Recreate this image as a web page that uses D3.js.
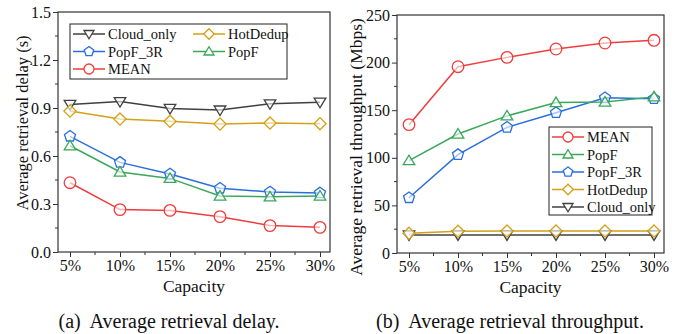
<!DOCTYPE html>
<meta charset="utf-8">
<script src="https://cdn.jsdelivr.net/npm/d3@7"></script>
<style>
  body { margin: 0; background: #fff; }
  text { font-family: "Liberation Serif", "DejaVu Serif", serif; fill: #111; }
</style>
<body>
<script>

var capacities = ["5%", "10%", "15%", "20%", "25%", "30%"]

// (a) average retrieval delay, seconds
var delayCloudOnly = [0.922, 0.940, 0.897, 0.887, 0.926, 0.936]
var delayHotDedup  = [0.881, 0.831, 0.817, 0.800, 0.806, 0.802]
var delayPopF3R    = [0.723, 0.560, 0.487, 0.398, 0.375, 0.369]
var delayPopF      = [0.664, 0.500, 0.460, 0.350, 0.345, 0.350]
var delayMean      = [0.433, 0.265, 0.260, 0.221, 0.165, 0.154]

// (b) average retrieval throughput, Mbps
var tputMean      = [134.8, 195.7, 205.5, 214.3, 220.6, 223.4]
var tputPopF      = [97.0, 125.0, 144.0, 158.0, 158.5, 164.0]
var tputPopF3R    = [58.0, 103.3, 132.0, 147.4, 163.0, 162.0]
var tputHotDedup  = [20.7, 22.8, 23.0, 23.0, 23.0, 23.0]
var tputCloudOnly = [19.0, 19.0, 19.0, 19.0, 19.0, 19.0]

var delayTicks = [0.0, 0.3, 0.6, 0.9, 1.2, 1.5]
var tputTicks = [0, 50, 100, 150, 200, 250]

var styles = {
  "Cloud_only": { color: "#404040", shape: "tdown" },
  "HotDedup":   { color: "#d4a017", shape: "diamond" },
  "PopF_3R":    { color: "#2b6fdc", shape: "pentagon" },
  "PopF":       { color: "#3aa85a", shape: "tup" },
  "MEAN":       { color: "#f03c3c", shape: "circle" }
}

var svg = d3.select("body").append("svg")
    .attr("width", 681)
    .attr("height", 334)

function markerPath(shape, r) {
  var pts
  if (shape == "circle") {
    return d3.arc()({ innerRadius: 0, outerRadius: r, startAngle: 0, endAngle: 2 * Math.PI })
  }
  if (shape == "tdown") pts = [[-r, -r * 0.7], [r, -r * 0.7], [0, r * 0.95]]
  if (shape == "tup") pts = [[-r, r * 0.7], [r, r * 0.7], [0, -r * 0.95]]
  if (shape == "diamond") pts = [[0, -r * 1.05], [r * 1.05, 0], [0, r * 1.05], [-r * 1.05, 0]]
  if (shape == "pentagon") pts = d3.range(5).map(function(i) {
    var a = -Math.PI / 2 + i * 2 * Math.PI / 5
    return [r * Math.cos(a), r * Math.sin(a)]
  })
  return "M" + pts.map(function(p) { return p.join(",") }).join("L") + "Z"
}

function drawPanel(opt) {
  var g = svg.append("g")
  var x = d3.scalePoint().domain(capacities).range([opt.x0 + 12, opt.x1 - 10])
  var y = d3.scaleLinear().domain(opt.domain).range([opt.y1, opt.y0])
  var step = x.step()

  // minor ticks
  var yMinor = d3.range(opt.domain[0] + opt.minor, opt.domain[1], opt.minor * 2)
  g.selectAll(".ymin").data(yMinor).enter().append("line")
      .attr("x1", opt.x0).attr("x2", opt.x0 - 3)
      .attr("y1", d => y(d)).attr("y2", d => y(d))
      .attr("stroke", "#333")
  var xMinor = capacities.slice(0, -1).map(d => x(d) + step / 2)
  g.selectAll(".xmin").data(xMinor).enter().append("line")
      .attr("x1", d => d).attr("x2", d => d)
      .attr("y1", opt.y1).attr("y2", opt.y1 + 3)
      .attr("stroke", "#333")

  var ax = g.append("g")
      .attr("transform", "translate(0," + opt.y1 + ")")
      .call(d3.axisBottom(x).tickSize(5).tickPadding(3))
  var ay = g.append("g")
      .attr("transform", "translate(" + opt.x0 + ",0)")
      .call(d3.axisLeft(y).tickValues(opt.ticks).tickSize(5).tickPadding(2).tickFormat(opt.fmt))
  ;[ax, ay].forEach(function(a) {
    a.select(".domain").remove()
    a.selectAll("line").attr("stroke", "#333")
    a.selectAll("text").style("font-size", "16px").style("font-family", "Liberation Serif").attr("fill", "#111")
  })

  g.append("rect")
      .attr("x", opt.x0).attr("y", opt.y0)
      .attr("width", opt.x1 - opt.x0).attr("height", opt.y1 - opt.y0)
      .attr("fill", "none").attr("stroke", "#333").attr("stroke-width", 1.2)

  var line = d3.line().x((d, i) => x(capacities[i])).y(d => y(d))
  opt.series.forEach(function(s) {
    var st = styles[s.name]
    g.append("path").attr("d", line(s.values))
        .attr("fill", "none").attr("stroke", st.color).attr("stroke-width", 1.5)
  })
  opt.series.forEach(function(s) {
    var st = styles[s.name]
    g.selectAll(null).data(s.values).enter().append("path")
        .attr("d", markerPath(st.shape, 5.8))
        .attr("transform", (d, i) => "translate(" + x(capacities[i]) + "," + y(d) + ")")
        .attr("fill", "#fff").attr("fill-opacity", 0.6).attr("stroke", st.color).attr("stroke-width", 1.3)
  })

  g.append("text")
      .attr("x", (opt.x0 + opt.x1) / 2).attr("y", opt.y1 + 40)
      .attr("text-anchor", "middle").style("font-size", "17.5px")
      .text("Capacity")
  g.append("text")
      .attr("transform", "translate(" + opt.titleX + "," + opt.titleY + ") rotate(-90)")
      .attr("text-anchor", "middle").attr("dy", "0.35em").style("font-size", opt.titleSize + "px")
      .text(opt.ylabel)
  g.append("text")
      .attr("x", opt.captionX).attr("y", 328)
      .attr("text-anchor", "middle").style("font-size", "20px")
      .style("white-space", "pre")
      .text(opt.caption)

  // legend
  var lg = g.append("g")
  lg.append("rect")
      .attr("x", opt.legend.x).attr("y", opt.legend.y)
      .attr("width", opt.legend.w).attr("height", opt.legend.h)
      .attr("fill", "#fff").attr("stroke", "#222").attr("stroke-width", 1)
  opt.legend.items.forEach(function(it) {
    var st = styles[it.name]
    var lx = opt.legend.x + it.col * opt.legend.colW + 3
    var ly = opt.legend.y + 10 + it.row * opt.legend.rowH
    lg.append("line").attr("x1", lx).attr("x2", lx + 32).attr("y1", ly).attr("y2", ly)
        .attr("stroke", st.color).attr("stroke-width", 1.5)
    lg.append("path").attr("d", markerPath(st.shape, 5))
        .attr("transform", "translate(" + (lx + 16) + "," + ly + ")")
        .attr("fill", "#fff").attr("stroke", st.color).attr("stroke-width", 1.3)
    lg.append("text").attr("x", lx + 35).attr("y", ly + 5)
        .style("font-size", "14.5px").text(it.name)
  })
}

drawPanel({
  x0: 58, x1: 330, y0: 12, y1: 252,
  domain: [0, 1.5], ticks: delayTicks, minor: 0.15, fmt: d3.format(".1f"),
  ylabel: "Average retrieval delay (s)", titleX: 22, titleY: 123, titleSize: 16.5,
  caption: "(a)  Average retrieval delay.", captionX: 169,
  series: [
    { name: "Cloud_only", values: delayCloudOnly },
    { name: "HotDedup", values: delayHotDedup },
    { name: "PopF_3R", values: delayPopF3R },
    { name: "PopF", values: delayPopF },
    { name: "MEAN", values: delayMean }
  ],
  legend: {
    x: 70, y: 24, w: 217, h: 55, colW: 120, rowH: 17.5,
    items: [
      { name: "Cloud_only", col: 0, row: 0 },
      { name: "HotDedup", col: 1, row: 0 },
      { name: "PopF_3R", col: 0, row: 1 },
      { name: "PopF", col: 1, row: 1 },
      { name: "MEAN", col: 0, row: 2 }
    ]
  }
})

drawPanel({
  x0: 397, x1: 664, y0: 15, y1: 253,
  domain: [0, 250], ticks: tputTicks, minor: 25, fmt: d3.format("d"),
  ylabel: "Average retrieval throughput (Mbps)", titleX: 356, titleY: 147, titleSize: 17.5,
  caption: "(b)  Average retrieval throughput.", captionX: 510,
  series: [
    { name: "Cloud_only", values: tputCloudOnly },
    { name: "HotDedup", values: tputHotDedup },
    { name: "PopF_3R", values: tputPopF3R },
    { name: "PopF", values: tputPopF },
    { name: "MEAN", values: tputMean }
  ],
  legend: {
    x: 549, y: 127, w: 103, h: 88, colW: 0, rowH: 17.5,
    items: [
      { name: "MEAN", col: 0, row: 0 },
      { name: "PopF", col: 0, row: 1 },
      { name: "PopF_3R", col: 0, row: 2 },
      { name: "HotDedup", col: 0, row: 3 },
      { name: "Cloud_only", col: 0, row: 4 }
    ]
  }
})

</script>
</body>
